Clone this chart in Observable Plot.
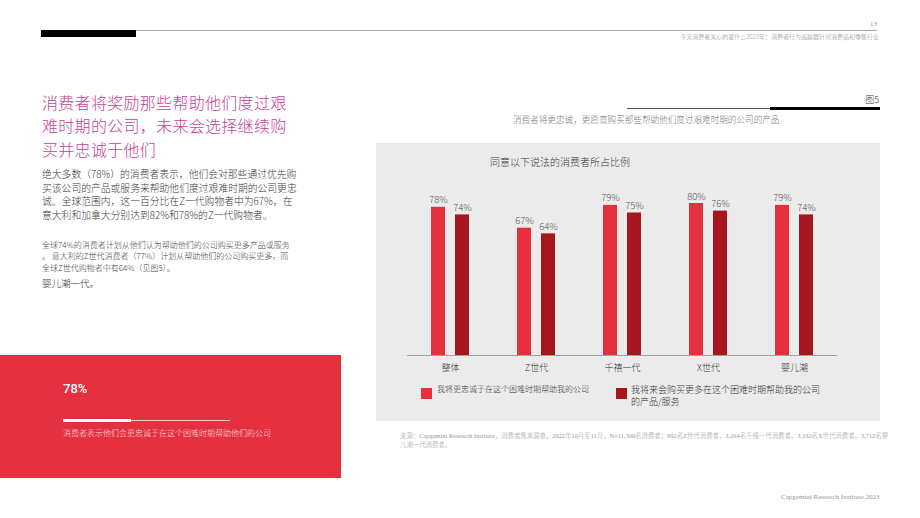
<!DOCTYPE html>
<html>
<head>
<meta charset="utf-8">
<script src="https://cdn.jsdelivr.net/npm/d3@7"></script>
<script src="https://cdn.jsdelivr.net/npm/@observablehq/plot@0.6"></script>
<style>
  html, body { margin: 0; padding: 0; background: #fff; }
  #page { position: relative; width: 920px; height: 518px; overflow: hidden; font-family: "Noto Sans CJK SC", "Noto Sans", sans-serif; font-weight: 300; }
  .abs { position: absolute; white-space: nowrap; }
  .serif { font-family: "Liberation Serif", "DejaVu Serif", "Noto Sans CJK SC", serif; }
</style>
</head>
<body>
<div id="page">
  <!-- header -->
  <div class="abs" style="left:41px;top:30px;width:95px;height:7px;background:#000;"></div>
  <div class="abs" style="left:136px;top:30px;width:741px;height:1px;background:#aaa;"></div>
  <div class="abs serif" style="right:43px;top:18px;font-size:7px;color:#999;line-height:12px;">13</div>
  <div class="abs" style="right:41px;top:31px;font-size:6px;color:#888;line-height:12px;">今天消费者关心的是什么2023年：消费者行为追踪器针对消费品和零售行业</div>

  <!-- left text -->
  <div class="abs" style="left:42px;top:91px;font-size:16px;line-height:23.4px;color:#c2429a;letter-spacing:0.3px;">消费者将奖励那些帮助他们度过艰<br>难时期的公司，未来会选择继续购<br>买并忠诚于他们</div>
  <div class="abs" style="left:42px;top:168px;font-size:9.8px;line-height:13.7px;color:#3a3a3a;">绝大多数（78%）的消费者表示，他们会对那些通过优先购<br>买该公司的产品或服务来帮助他们度过艰难时期的公司更忠<br>诚。全球范围内，这一百分比在Z一代购物者中为67%，在<br>意大利和加拿大分别达到82%和78%的Z一代购物者。</div>
  <div class="abs" style="left:42px;top:239px;font-size:8px;line-height:11.3px;color:#444;">全球74%的消费者计划从他们认为帮助他们的公司购买更多产品或服务<br>。 意大利的Z世代消费者（77%）计划从帮助他们的公司购买更多，而<br>全球Z世代购物者中有64%（见图5）。</div>
  <div class="abs" style="left:42px;top:276px;font-size:9.5px;line-height:14px;color:#333;">婴儿潮一代。</div>

  <!-- red callout -->
  <div class="abs" style="left:0;top:355px;width:341px;height:123px;background:#e4303f;"></div>
  <div class="abs" style="left:63px;top:380px;font-size:13px;line-height:18px;color:#fff;font-family:Roboto,'Noto Sans',sans-serif;font-weight:500;">78%</div>
  <div class="abs" style="left:63px;top:419px;width:68px;height:2.5px;background:#fff;"></div>
  <div class="abs" style="left:131px;top:420px;width:99px;height:1px;background:rgba(255,255,255,0.75);"></div>
  <div class="abs" style="left:63px;top:427px;font-size:8px;line-height:12px;color:rgba(255,255,255,0.88);">消费者表示他们会更忠诚于在这个困难时期帮助他们的公司</div>

  <!-- figure heading -->
  <div class="abs" style="right:41px;top:94px;font-size:9px;line-height:12px;color:#333;">图5</div>
  <div class="abs" style="left:627px;top:108px;width:143px;height:1px;background:#555;"></div>
  <div class="abs" style="left:770px;top:107px;width:110px;height:2.5px;background:#000;"></div>
  <div class="abs" style="left:513px;top:113px;font-size:8.6px;line-height:12px;color:#777;">消费者将更忠诚，更愿意购买那些帮助他们度过艰难时期的公司的产品</div>

  <!-- chart panel -->
  <div class="abs" style="left:376px;top:143px;width:504px;height:278px;background:#ebebeb;"></div>
  <div id="chart" class="abs" style="left:376px;top:143px;width:504px;height:278px;"></div>
  <div class="abs" style="left:490px;top:155px;font-size:10px;line-height:13px;color:#3a3a3a;">同意以下说法的消费者所占比例</div>

  <!-- legend -->
  <div class="abs" id="sw1" style="left:421px;top:388px;width:11px;height:11px;"></div>
  <div class="abs" id="lg1" style="left:437px;top:383px;font-size:8px;line-height:12px;color:#333;"></div>
  <div class="abs" id="sw2" style="left:616px;top:388px;width:11px;height:11px;"></div>
  <div class="abs" id="lg2" style="left:631px;top:384px;font-size:9px;line-height:12px;color:#333;"></div>

  <!-- source -->
  <div class="abs serif" style="left:400px;top:432px;font-size:6.4px;line-height:8.5px;color:#999;">来源：Capgemini Research Institute，消费者需求调查，2022年10月至11月，N=11,300名消费者；992名Z世代消费者，3,264名千禧一代消费者，3,332名X世代消费者，3,712名婴<br>儿潮一代消费者。</div>
  <div class="abs serif" style="left:781px;top:492px;font-size:7px;line-height:10px;color:#999;">Capgemini Research Institute 2023</div>
</div>

<script>
// ---- data ----
const categories = ["整体", "Z世代", "千禧一代", "X世代", "婴儿潮"];
const seriesNames = [
  "我将更忠诚于在这个困难时期帮助我的公司",
  "我将来会购买更多在这个困难时期帮助我的公司的产品/服务"
];
const loyalValues = [78, 67, 79, 80, 79];
const buyMoreValues = [74, 64, 75, 76, 74];

// ---- styles ----
const seriesColors = ["#e4303f", "#a6161f"];

const rows = [];
categories.forEach((c, i) => {
  rows.push({category: c, series: seriesNames[0], value: loyalValues[i]});
  rows.push({category: c, series: seriesNames[1], value: buyMoreValues[i]});
});

const chart = Plot.plot({
  width: 504,
  height: 278,
  marginLeft: 30,
  marginRight: 43,
  marginTop: 22,
  marginBottom: 66,
  style: {background: "transparent", fontFamily: "'Noto Sans CJK SC', sans-serif", fontWeight: 300},
  fx: {domain: categories, padding: 0, label: null},
  x: {domain: seriesNames, paddingInner: 0.4167, paddingOuter: 1, axis: null},
  y: {domain: [0, 100], axis: null},
  color: {domain: seriesNames, range: seriesColors},
  marks: [
    Plot.barY(rows, {fx: "category", x: "series", y: "value", fill: "series"}),
    Plot.text(rows, {fx: "category", x: "series", y: "value", text: d => d.value + "%", dy: -7, fontSize: 9.5, fill: "#555"}),
    Plot.ruleY([0], {stroke: "#a0a0a0", strokeWidth: 1}),
    Plot.axisFx({anchor: "bottom", tickSize: 0, tickPadding: 9, fontSize: 9, fill: "#333", label: null})
  ]
});
document.getElementById("chart").appendChild(chart);

document.getElementById("sw1").style.background = seriesColors[0];
document.getElementById("sw2").style.background = seriesColors[1];
document.getElementById("lg1").textContent = seriesNames[0];
document.getElementById("lg2").innerHTML = "我将来会购买更多在这个困难时期帮助我的公司<br>的产品/服务";
</script>
</body>
</html>
